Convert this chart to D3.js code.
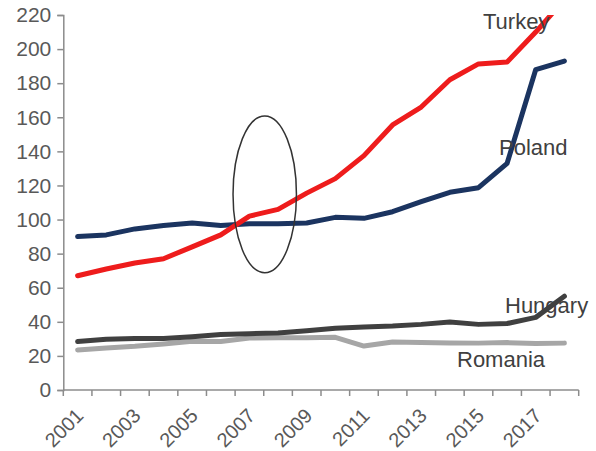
<!DOCTYPE html>
<html><head><meta charset="utf-8">
<script src="https://cdn.jsdelivr.net/npm/d3@7"></script>
<style>
html,body{margin:0;padding:0;background:#fff;}
svg{display:block;font-family:"Liberation Sans",Arial,sans-serif;}
</style></head>
<body><svg id="c" width="596" height="451"></svg>
<script>
const years = [2001,2002,2003,2004,2005,2006,2007,2008,2009,2010,2011,2012,2013,2014,2015,2016,2017,2018];
const turkey  = [67,71,74.5,77,84,91,102,106,115.5,124,137.5,155.5,166,182,191.3,192.4,210,229];
const poland  = [90,91,94.5,96.5,98,96.5,97.5,97.5,98,101.3,100.7,104.6,110.5,116,118.7,133,188,193];
const hungary = [28.4,29.8,30.2,30.2,31.2,32.5,33,33.5,34.8,36.2,37,37.5,38.5,39.9,38.5,39,42.6,55];
const romania = [23.5,24.6,25.6,27,28.6,28.4,30.5,30.7,30.7,30.9,25.8,28.2,27.8,27.6,27.5,27.8,27.3,27.5];
const yTicks = [0,20,40,60,80,100,120,140,160,180,200,220];
const xLabelYears = [2001,2003,2005,2007,2009,2011,2013,2015,2017];
const series = [
  {name:"Romania", values:romania, color:"#a6a6a6", lx:457, ly:367},
  {name:"Hungary", values:hungary, color:"#404040", lx:505, ly:313},
  {name:"Poland",  values:poland,  color:"#1b3460", lx:499, ly:155},
  {name:"Turkey",  values:turkey,  color:"#ee1c1c", lx:483, ly:29}
];
const ellipseInfo = {year:2008, center:114.8, halfSpan:46};

const svg = d3.select("#c");
const L = 63.3, R = 578.7, T = 15, B = 390;
const x = d3.scaleBand().domain(years).range([L,R]).padding(0);
const y = d3.scaleLinear().domain([0,220]).range([B,T]);
const cx = d => x(d) + x.bandwidth()/2;

svg.append("defs").append("clipPath").attr("id","plot")
  .append("rect").attr("x",L).attr("y",T).attr("width",R-L+20).attr("height",B-T);

const axisColor = "#8c8c8c", textColor = "#595959";

// y axis
const ya = svg.append("g").attr("transform",`translate(${L},0)`)
  .call(d3.axisLeft(y).tickValues(yTicks).tickSize(6).tickPadding(6));
ya.select(".domain").attr("stroke",axisColor).attr("stroke-width",1.5);
ya.selectAll(".tick line").attr("stroke",axisColor).attr("stroke-width",1.5);
ya.selectAll(".tick text").attr("fill",textColor).style("font-size","21px")
  .style("font-family","Liberation Sans, Arial, sans-serif");

// x axis: tick marks at band boundaries
const xa = svg.append("g").attr("transform",`translate(0,${B})`);
xa.append("line").attr("x1",L).attr("x2",R).attr("stroke",axisColor).attr("stroke-width",1.5);
const boundaries = years.map(d=>x(d)).concat([R]);
xa.selectAll("line.tk").data(boundaries).join("line").attr("class","tk")
  .attr("x1",d=>d).attr("x2",d=>d).attr("y1",0).attr("y2",6)
  .attr("stroke",axisColor).attr("stroke-width",1.5);
xa.selectAll("text").data(xLabelYears).join("text")
  .attr("transform",d=>`translate(${cx(d)+7},${27}) rotate(-45)`)
  .attr("text-anchor","end").attr("fill",textColor)
  .style("font-size","20px").text(d=>d);

// lines
const line = d3.line().x((d,i)=>cx(years[i])).y(d=>y(d)).curve(d3.curveLinear);
const lg = svg.append("g").attr("clip-path","url(#plot)");
lg.selectAll("path").data(series).join("path")
  .attr("d",d=>line(d.values)).attr("fill","none")
  .attr("stroke",d=>d.color).attr("stroke-width",5)
  .attr("stroke-linejoin","round").attr("stroke-linecap","round");

// ellipse (centred on the 2007/2008 boundary)
svg.append("ellipse")
  .attr("cx",x(ellipseInfo.year)+1)
  .attr("cy",y(ellipseInfo.center))
  .attr("rx",31.7)
  .attr("ry",y(ellipseInfo.center-ellipseInfo.halfSpan)-y(ellipseInfo.center))
  .attr("fill","none").attr("stroke","#333").attr("stroke-width",1.5);

// labels
svg.selectAll("text.lab").data(series).join("text").attr("class","lab")
  .attr("x",d=>d.lx).attr("y",d=>d.ly).attr("fill","#404040")
  .style("font-size","22px").text(d=>d.name);
</script></body></html>
